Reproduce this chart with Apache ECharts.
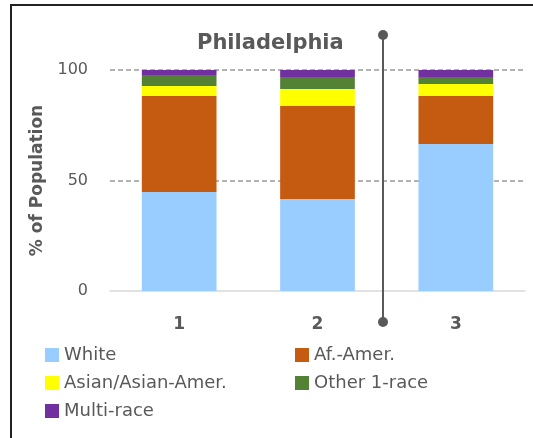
<!DOCTYPE html>
<html>
<head>
<meta charset="utf-8">
<script src="https://cdn.jsdelivr.net/npm/echarts@6/dist/echarts.min.js"></script>
<style>
  html, body { margin: 0; padding: 0; background: #fff; }
  #chart { width: 533px; height: 438px; }
</style>
</head>
<body>
<div id="chart"></div>
<script>
// categories and values (% of population)
var categories = ['1', '2', '3'];
var white = [44.8, 41.6, 66.5];
var afAmer = [43.4, 42.2, 21.7];
var asian = [4.6, 7.6, 5.5];
var other1 = [4.9, 5.4, 3.1];
var multi = [2.3, 3.2, 3.2];
var yTicks = [0, 50, 100];

var seriesNames = ['White', 'Af.-Amer.', 'Asian/Asian-Amer.', 'Other 1-race', 'Multi-race'];
var seriesData = [white, afAmer, asian, other1, multi];
var colors = ['#99CCFF', '#C55A11', '#FFFF00', '#548235', '#7030A0'];

var dom = document.getElementById('chart');
var myChart = echarts.init(dom, null, { renderer: 'canvas' });

var fontName = 'DejaVu Sans';
var textGray = '#595959';

var series = [];
for (var i = 0; i < seriesNames.length; i++) {
    series.push({
        name: seriesNames[i],
        type: 'bar',
        stack: 'total',
        barWidth: '54%',
        data: seriesData[i],
        itemStyle: { color: colors[i] }
    });
}

function legendStyle(left, names) {
    return {
        orient: 'vertical',
        left: left,
        top: 346,
        padding: 0,
        itemWidth: 14,
        itemHeight: 14,
        itemGap: 10,
        icon: 'rect',
        data: names,
        selectedMode: false,
        textStyle: { fontFamily: fontName, fontSize: 18, lineHeight: 18, color: textGray }
    };
}

var option = {
    animation: false,
    color: colors,
    title: {
        text: 'Philadelphia',
        left: 192,
        top: 28,
        textStyle: { fontFamily: fontName, fontSize: 21, fontWeight: 'bold', color: textGray }
    },
    legend: [
        legendStyle(45, ['White', 'Asian/Asian-Amer.', 'Multi-race']),
        legendStyle(295, ['Af.-Amer.', 'Other 1-race'])
    ],
    grid: { left: 110, right: 8, top: 70, bottom: 147 },
    xAxis: {
        type: 'category',
        data: categories,
        axisLine: { lineStyle: { color: '#d9d9d9', width: 1.5 } },
        axisTick: { show: false },
        axisLabel: { fontFamily: fontName, fontSize: 17, fontWeight: 'bold', color: textGray, margin: 25 }
    },
    yAxis: {
        type: 'value',
        min: yTicks[0],
        max: yTicks[yTicks.length - 1],
        interval: 50,
        name: '% of Population',
        nameLocation: 'middle',
        nameGap: 62,
        nameTextStyle: { fontFamily: fontName, fontSize: 17, fontWeight: 'bold', color: textGray },
        axisLine: { show: false },
        axisTick: { show: false },
        axisLabel: { fontFamily: fontName, fontSize: 16, color: textGray, margin: 22 },
        splitLine: { showMinLine: false, lineStyle: { color: '#9a9a9a', type: [5, 3], width: 1.5 } }
    },
    graphic: [
        {
            type: 'rect',
            shape: { x: 11, y: 5, width: 700, height: 600 },
            style: { fill: 'none', stroke: '#222', lineWidth: 2 },
            silent: true
        },
        {
            type: 'line',
            shape: { x1: 383, y1: 35, x2: 383, y2: 322 },
            style: { stroke: '#595959', lineWidth: 2 },
            z: 100
        },
        {
            type: 'circle',
            shape: { cx: 383, cy: 35, r: 5 },
            style: { fill: '#595959' },
            z: 100
        },
        {
            type: 'circle',
            shape: { cx: 383, cy: 322, r: 5 },
            style: { fill: '#595959' },
            z: 100
        }
    ],
    series: series
};

myChart.setOption(option);
window.addEventListener('resize', myChart.resize);
</script>
</body>
</html>
